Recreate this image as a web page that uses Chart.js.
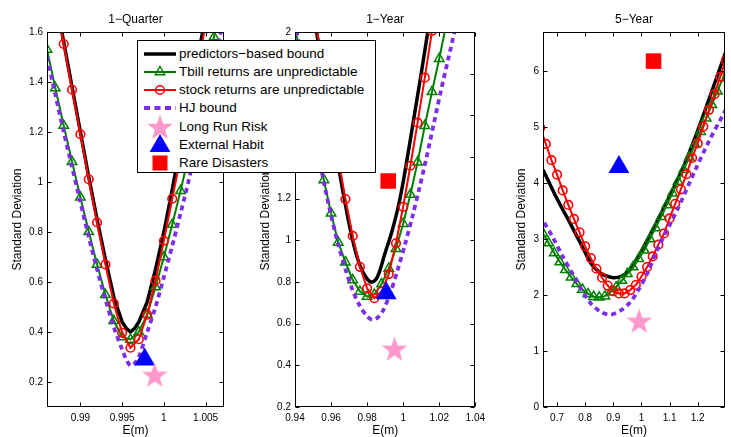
<!DOCTYPE html>
<html>
<head>
<meta charset="utf-8">
<script src="https://cdn.jsdelivr.net/npm/chart.js@4.4.1/dist/chart.umd.min.js"></script>
<style>
html, body { margin: 0; padding: 0; background: #fff; overflow: hidden; width: 731px; height: 437px; }
canvas { position: absolute; top: 0; }
#legend { position: absolute; left: 137px; top: 40px; width: 237px; height: 131px; border: 1px solid #000; background: #fff; z-index: 5;
  font-family: "Liberation Sans", Arial, sans-serif; font-size: 13.5px; color: #000; }
.row { position: absolute; left: 0; height: 18px; line-height: 18px; white-space: nowrap; }
.row svg { position: absolute; left: 5px; top: -6px; }
.row span { position: absolute; left: 41px; top: 0; }
</style>
</head>
<body>
<canvas id="c1" width="238" height="437" style="left:0px"></canvas>
<canvas id="c2" width="242" height="437" style="left:248px"></canvas>
<canvas id="c3" width="243" height="437" style="left:496px"></canvas>

<div id="legend">
  <div class="row" style="top:3.7px"><svg width="36" height="30"><line x1="1" y1="15" x2="33" y2="15" stroke="#000" stroke-width="3.5"/></svg><span>predictors−based bound</span></div>
  <div class="row" style="top:21.9px"><svg width="36" height="30"><line x1="1" y1="15" x2="33" y2="15" stroke="#008000" stroke-width="2"/><polygon points="17,9.5 21.76,17.75 12.24,17.75" fill="none" stroke="#008000" stroke-width="1.5"/></svg><span>Tbill returns are unpredictable</span></div>
  <div class="row" style="top:40.1px"><svg width="36" height="30"><line x1="1" y1="15" x2="33" y2="15" stroke="#ff0000" stroke-width="2"/><circle cx="17" cy="15" r="4.3" fill="none" stroke="#ff0000" stroke-width="1.6"/></svg><span>stock returns are unpredictable</span></div>
  <div class="row" style="top:58.3px"><svg width="36" height="30"><line x1="1" y1="15" x2="33" y2="15" stroke="#7d2ee6" stroke-width="4" stroke-dasharray="6 4.5"/></svg><span>HJ bound</span></div>
  <div class="row" style="top:76.5px"><svg width="36" height="30" id="legStar"></svg><span>Long Run Risk</span></div>
  <div class="row" style="top:94.7px"><svg width="36" height="30"><polygon points="17,4 27.4,22 6.6,22" fill="#0000ff"/></svg><span>External Habit</span></div>
  <div class="row" style="top:112.9px"><svg width="36" height="30"><rect x="9.5" y="7.5" width="15" height="15" fill="#ff0000"/></svg><span>Rare Disasters</span></div>
</div>

<script>
const FONT = '"Liberation Sans", Arial, sans-serif';

// ---------- 1-Quarter ----------
const qXTicks = [0.99, 0.995, 1, 1.005];
const qYTicks = [0.2, 0.4, 0.6, 0.8, 1, 1.2, 1.4, 1.6];
const qBoundX = [0.987, 0.988, 0.989, 0.990, 0.991, 0.992, 0.993, 0.994, 0.995, 0.9955, 0.996, 0.9965, 0.997, 0.998, 0.999, 1.000, 1.001, 1.002, 1.003, 1.004, 1.005];
const qBoundY = [1.74, 1.56, 1.38, 1.20, 1.02, 0.85, 0.69, 0.54, 0.44, 0.415, 0.40, 0.415, 0.44, 0.52, 0.65, 0.80, 0.97, 1.15, 1.32, 1.49, 1.66];
const qTbillX = [0.986, 0.987, 0.988, 0.989, 0.990, 0.991, 0.992, 0.993, 0.994, 0.995, 0.996, 0.997, 0.998, 0.999, 1.000, 1.001, 1.002, 1.003, 1.004, 1.005, 1.006, 1.007];
const qTbillY = [1.53, 1.376, 1.226, 1.081, 0.939, 0.801, 0.670, 0.549, 0.445, 0.38, 0.37, 0.40, 0.47, 0.58, 0.70, 0.83, 0.965, 1.11, 1.26, 1.42, 1.58, 1.74];
const qStockX = [0.987, 0.988, 0.989, 0.990, 0.991, 0.992, 0.993, 0.994, 0.995, 0.996, 0.997, 0.998, 0.999, 1.000, 1.001, 1.002, 1.003, 1.004, 1.005];
const qStockY = [1.73, 1.552, 1.369, 1.191, 1.011, 0.838, 0.670, 0.514, 0.397, 0.337, 0.371, 0.469, 0.606, 0.765, 0.933, 1.10, 1.27, 1.45, 1.63];
const qHjX = [0.986, 0.987, 0.988, 0.989, 0.990, 0.991, 0.992, 0.993, 0.994, 0.995, 0.9955, 0.996, 0.9965, 0.997, 0.998, 0.999, 1.000, 1.001, 1.002, 1.003, 1.004, 1.005, 1.006, 1.007];
const qHjY = [1.50, 1.35, 1.20, 1.06, 0.92, 0.78, 0.65, 0.53, 0.42, 0.33, 0.29, 0.265, 0.275, 0.30, 0.40, 0.50, 0.62, 0.745, 0.875, 1.01, 1.16, 1.31, 1.47, 1.63];
const qLongRun = [0.9989, 0.224];
const qHabit = [0.9977, 0.29];

// ---------- 1-Year ----------
const aXTicks = [0.94, 0.96, 0.98, 1, 1.02, 1.04];
const aYTicks = [0.2, 0.4, 0.6, 0.8, 1, 1.2, 1.4, 1.6, 1.8, 2];
const aBoundX = [0.950, 0.952, 0.956, 0.960, 0.964, 0.968, 0.972, 0.976, 0.980, 0.983, 0.986, 0.990, 0.994, 0.998, 1.002, 1.006, 1.010, 1.014];
const aBoundY = [2.12, 2.00, 1.77, 1.56, 1.36, 1.17, 1.00, 0.88, 0.815, 0.80, 0.83, 0.94, 1.05, 1.19, 1.38, 1.59, 1.80, 2.02];
const aTbillX = [0.940, 0.944, 0.948, 0.952, 0.956, 0.960, 0.964, 0.968, 0.972, 0.976, 0.980, 0.984, 0.988, 0.992, 0.996, 1.000, 1.004, 1.008, 1.012, 1.016, 1.020, 1.024];
const aTbillY = [2.03, 1.82, 1.62, 1.44, 1.29, 1.13, 0.99, 0.895, 0.81, 0.755, 0.73, 0.74, 0.79, 0.865, 0.96, 1.08, 1.22, 1.375, 1.55, 1.713, 1.872, 2.04];
const aStockX = [0.952, 0.956, 0.960, 0.964, 0.968, 0.972, 0.976, 0.980, 0.984, 0.988, 0.992, 0.996, 1.000, 1.004, 1.008, 1.012, 1.016];
const aStockY = [2.02, 1.80, 1.59, 1.39, 1.198, 1.021, 0.873, 0.77, 0.722, 0.754, 0.838, 0.986, 1.161, 1.358, 1.565, 1.781, 2.005];
const aHjX = [0.940, 0.944, 0.948, 0.952, 0.956, 0.960, 0.964, 0.968, 0.972, 0.976, 0.980, 0.983, 0.986, 0.989, 0.993, 0.997, 1.001, 1.005, 1.009, 1.013, 1.017, 1.021, 1.025, 1.029, 1.031];
const aHjY = [2.05, 1.85, 1.65, 1.46, 1.28, 1.12, 0.98, 0.86, 0.76, 0.685, 0.635, 0.618, 0.63, 0.665, 0.75, 0.86, 0.98, 1.11, 1.25, 1.40, 1.56, 1.72, 1.87, 2.02, 2.10];
const aLongRun = [0.9952, 0.474];
const aHabit = [0.9906, 0.746];
const aDisaster = [0.9917, 1.285];

// ---------- 5-Year ----------
const fXTicks = [0.7, 0.8, 0.9, 1, 1.1, 1.2];
const fYTicks = [0, 1, 2, 3, 4, 5, 6];
const fBoundX = [0.65, 0.70, 0.75, 0.80, 0.82, 0.85, 0.87, 0.90, 0.93, 0.96, 0.98, 1.015, 1.05, 1.10, 1.15, 1.20, 1.25, 1.30, 1.32];
const fBoundY = [4.24, 3.72, 3.25, 2.76, 2.57, 2.41, 2.35, 2.31, 2.34, 2.45, 2.60, 2.93, 3.26, 3.76, 4.30, 4.94, 5.64, 6.35, 6.64];
const fTbillX = [0.65, 0.67, 0.69, 0.71, 0.73, 0.75, 0.77, 0.79, 0.81, 0.83, 0.85, 0.87, 0.89, 0.91, 0.93, 0.95, 0.97, 0.99, 1.01, 1.03, 1.05, 1.07, 1.09, 1.11, 1.13, 1.15, 1.17, 1.19, 1.21, 1.23, 1.25, 1.27, 1.29, 1.31];
const fTbillY = [3.10, 2.93, 2.75, 2.59, 2.45, 2.32, 2.20, 2.10, 2.02, 1.97, 1.96, 1.98, 2.05, 2.14, 2.26, 2.38, 2.50, 2.65, 2.80, 3.00, 3.20, 3.40, 3.61, 3.82, 4.03, 4.24, 4.46, 4.69, 4.92, 5.16, 5.40, 5.64, 5.88, 6.12];
const fStockX = [0.64, 0.66, 0.68, 0.70, 0.72, 0.74, 0.76, 0.78, 0.80, 0.82, 0.84, 0.86, 0.88, 0.90, 0.92, 0.94, 0.96, 0.98, 1.00, 1.02, 1.04, 1.06, 1.08, 1.10, 1.12, 1.14, 1.16, 1.18, 1.20, 1.22, 1.24, 1.26, 1.28, 1.30, 1.32];
const fStockY = [4.99, 4.70, 4.41, 4.15, 3.87, 3.61, 3.36, 3.12, 2.87, 2.66, 2.47, 2.31, 2.17, 2.07, 2.03, 2.03, 2.09, 2.18, 2.33, 2.50, 2.69, 2.90, 3.10, 3.37, 3.63, 3.89, 4.16, 4.45, 4.71, 5.01, 5.31, 5.59, 5.90, 6.19, 6.50];
const fHjX = [0.64, 0.65, 0.685, 0.72, 0.755, 0.79, 0.82, 0.855, 0.89, 0.925, 0.96, 0.99, 1.02, 1.06, 1.10, 1.13, 1.19, 1.24, 1.29, 1.32];
const fHjY = [3.43, 3.33, 3.03, 2.69, 2.38, 2.07, 1.85, 1.70, 1.65, 1.72, 1.87, 2.10, 2.38, 2.85, 3.25, 3.55, 4.22, 4.75, 5.22, 5.50];
const fLongRun = [0.992, 1.52];
const fHabit = [0.92, 4.29];
const fDisaster = [1.043, 6.18];

const pts = (xs, ys) => xs.map((x, i) => ({ x: x, y: ys[i] }));

function starPath(cx, cy, r) {
  const p = [];
  for (let i = 0; i < 10; i++) {
    const a = -Math.PI / 2 + i * Math.PI / 5;
    const rr = i % 2 ? r * 0.4 : r;
    p.push([cx + rr * Math.cos(a), cy + rr * Math.sin(a)]);
  }
  return p;
}
function starImage(r) {
  const c = document.createElement('canvas');
  const s = Math.ceil(2 * r + 2);
  c.width = s; c.height = s;
  const g = c.getContext('2d');
  g.fillStyle = '#ff99cc';
  g.beginPath();
  starPath(s / 2, s / 2, r).forEach(p => g.lineTo(p[0], p[1]));
  g.closePath();
  g.fill();
  return c;
}
const star = starImage(13.5);
document.getElementById('legStar').innerHTML =
  '<polygon fill="#ff99cc" points="' + starPath(17, 16, 13.5).map(p => p.join(',')).join(' ') + '"/>';

// box with inward ticks + titles, MATLAB style
const frame = {
  id: 'frame',
  afterDatasetsDraw(chart, args, o) {
    const { ctx, chartArea: a, scales } = chart;
    const L = Math.round(a.left) + 0.5, R = Math.round(a.right) - 0.5;
    const T = Math.round(a.top) + 0.5, B = Math.round(a.bottom) - 0.5;
    ctx.save();
    ctx.strokeStyle = '#000';
    ctx.lineWidth = 1;
    ctx.strokeRect(L, T, R - L, B - T);
    ctx.beginPath();
    scales.x.ticks.forEach(t => {
      const p = Math.round(scales.x.getPixelForValue(t.value)) + 0.5;
      ctx.moveTo(p, B); ctx.lineTo(p, B - 4);
      ctx.moveTo(p, T); ctx.lineTo(p, T + 4);
    });
    scales.y.ticks.forEach(t => {
      const p = Math.round(scales.y.getPixelForValue(t.value)) + 0.5;
      ctx.moveTo(L, p); ctx.lineTo(L + 4, p);
      ctx.moveTo(R, p); ctx.lineTo(R - 4, p);
    });
    ctx.stroke();
    ctx.fillStyle = '#000';
    ctx.textAlign = 'center';
    ctx.textBaseline = 'middle';
    ctx.font = '12px ' + FONT;
    const cx = (a.left + a.right) / 2;
    ctx.fillText(o.title, cx, 20);
    ctx.fillText('E(m)', cx, 431);
    ctx.translate(a.left - o.yOff, (a.top + a.bottom) / 2);
    ctx.rotate(-Math.PI / 2);
    ctx.fillText('Standard Deviation', 0, 0);
    ctx.restore();
  }
};

function makePanel(id, p) {
  const sets = [
    { data: pts(p.bx, p.by), showLine: true, borderColor: '#000', borderWidth: 3.5, pointRadius: 0, tension: p.tension, order: 4 },
    { data: pts(p.tx, p.ty), showLine: true, borderColor: '#008000', borderWidth: 2, tension: 0,
      pointStyle: 'triangle', pointRadius: 5.5, pointBorderWidth: 1.5, pointBorderColor: '#008000', pointBackgroundColor: 'rgba(0,0,0,0)', order: 3 },
    { data: pts(p.sx, p.sy), showLine: true, borderColor: '#ff0000', borderWidth: 2, tension: 0,
      pointStyle: 'circle', pointRadius: 4.3, pointBorderWidth: 1.6, pointBorderColor: '#ff0000', pointBackgroundColor: 'rgba(0,0,0,0)', order: 2 },
    { data: pts(p.hx, p.hy), showLine: true, borderColor: '#7d2ee6', borderWidth: 3.8, borderDash: [5, 4], pointRadius: 0, tension: 0.3, order: 1 },
    { data: [{ x: p.lrr[0], y: p.lrr[1] }], pointStyle: star, pointRadius: 13, order: 0 },
    { data: [{ x: p.eh[0], y: p.eh[1] }], pointStyle: 'triangle', pointRadius: 12, pointBackgroundColor: '#0000ff', pointBorderWidth: 0, order: 0 }
  ];
  if (p.rd) sets.push({ data: [{ x: p.rd[0], y: p.rd[1] }], pointStyle: 'rect', pointRadius: 11, pointBackgroundColor: '#ff0000', pointBorderWidth: 0, order: 0 });

  const tickFont = { family: FONT, size: 10 };
  new Chart(document.getElementById(id), {
    type: 'scatter',
    data: { datasets: sets },
    options: {
      responsive: false,
      animation: false,
      events: [],
      layout: { padding: { top: 32, bottom: 0, left: 0, right: 6 } },
      plugins: { legend: { display: false }, tooltip: { enabled: false }, frame: { title: p.title, yOff: p.yOff } },
      scales: {
        x: {
          type: 'linear', min: p.xr[0], max: p.xr[1],
          afterBuildTicks: s => { s.ticks = p.xt.map(v => ({ value: v })); },
          afterFit: s => { s.height = 30; },
          grid: { display: false, drawTicks: false }, border: { display: false },
          ticks: { autoSkip: false, maxRotation: 0, padding: 5, color: '#000', font: tickFont, callback: v => String(v) }
        },
        y: {
          type: 'linear', min: p.yr[0], max: p.yr[1],
          afterBuildTicks: s => { s.ticks = p.yt.map(v => ({ value: v })); },
          afterFit: s => { s.width = 47; },
          grid: { display: false, drawTicks: false }, border: { display: false },
          ticks: { autoSkip: false, padding: 4, color: '#000', font: tickFont, callback: v => String(v) }
        }
      }
    },
    plugins: [frame]
  });
}

makePanel('c1', { title: '1−Quarter', yOff: 29.5, xr: [0.986, 1.0072], yr: [0.1, 1.6], xt: qXTicks, yt: qYTicks, tension: 0,
  bx: qBoundX, by: qBoundY, tx: qTbillX, ty: qTbillY, sx: qStockX, sy: qStockY, hx: qHjX, hy: qHjY, lrr: qLongRun, eh: qHabit });
makePanel('c2', { title: '1−Year', yOff: 29.7, xr: [0.94, 1.04], yr: [0.2, 2], xt: aXTicks, yt: aYTicks, tension: 0.35,
  bx: aBoundX, by: aBoundY, tx: aTbillX, ty: aTbillY, sx: aStockX, sy: aStockY, hx: aHjX, hy: aHjY, lrr: aLongRun, eh: aHabit, rd: aDisaster });
makePanel('c3', { title: '5−Year', yOff: 21, xr: [0.65, 1.297], yr: [0, 6.7], xt: fXTicks, yt: fYTicks, tension: 0.35,
  bx: fBoundX, by: fBoundY, tx: fTbillX, ty: fTbillY, sx: fStockX, sy: fStockY, hx: fHjX, hy: fHjY, lrr: fLongRun, eh: fHabit, rd: fDisaster });
</script>
</body>
</html>
